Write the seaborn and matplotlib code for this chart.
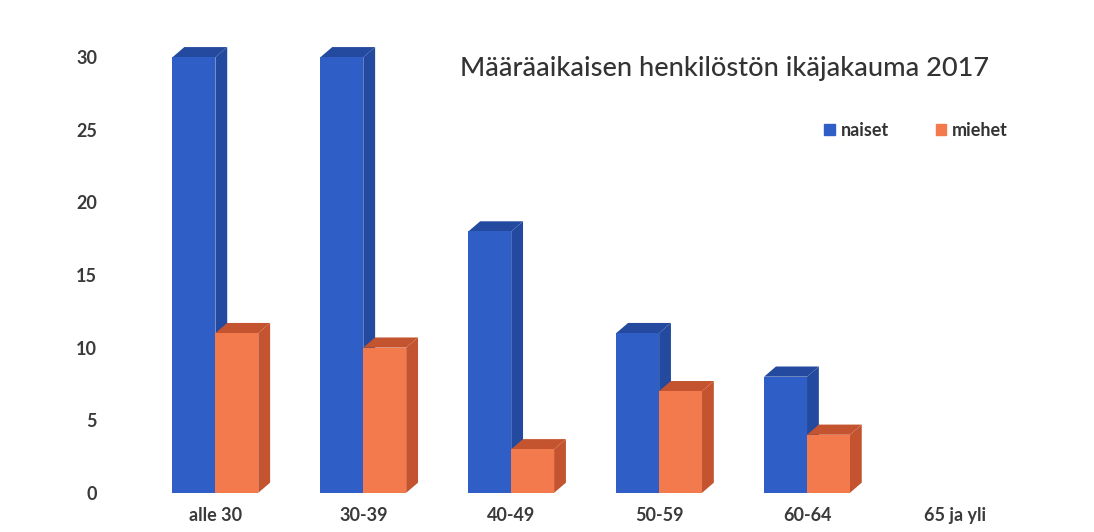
import pandas as pd
import matplotlib.pyplot as plt
from matplotlib.patches import Polygon
import seaborn as sns

# data
ikaryhmat = ["alle 30", "30-39", "40-49", "50-59", "60-64", "65 ja yli"]
naiset = [30, 30, 18, 11, 8, 0]
miehet = [11, 10, 3, 7, 4, 0]
sarjat = ["naiset", "miehet"]

front = {"naiset": "#2f5fc6", "miehet": "#f27a4c"}
side = {"naiset": "#234a9e", "miehet": "#c4542f"}

df = pd.DataFrame({
    "ikä": ikaryhmat * 2,
    "sarja": ["naiset"] * len(ikaryhmat) + ["miehet"] * len(ikaryhmat),
    "lkm": naiset + miehet,
})

sns.set_style("white")
plt.rcParams["font.family"] = ["Lato", "DejaVu Sans"]

fig = plt.figure(figsize=(10.94, 5.32), dpi=100)
ax = fig.add_axes([0.109, 0.06, 0.845, 0.887])

sns.barplot(data=df, x="ikä", y="lkm", hue="sarja", hue_order=sarjat,
            palette=front, width=0.58, gap=0, saturation=1, ax=ax,
            linewidth=0, legend=False)

# fake 3D depth on each bar, derived from the bar geometry
dx, dy = 0.08, 0.7
for i, p in enumerate(ax.patches[:len(ikaryhmat) * 2]):
    h = p.get_height()
    if h <= 0:
        continue
    s = sarjat[i // len(ikaryhmat)]
    x0 = p.get_x()
    x1 = x0 + p.get_width()
    ax.add_patch(Polygon([(x1, 0), (x1 + dx, dy), (x1 + dx, h + dy), (x1, h)],
                         closed=True, color=side[s], lw=0, zorder=p.get_zorder() - 0.1))
    ax.add_patch(Polygon([(x0, h), (x1, h), (x1 + dx, h + dy), (x0 + dx, h + dy)],
                         closed=True, color=side[s], lw=0, zorder=p.get_zorder() - 0.1))

ax.set_xlim(-0.65, 5.6)
ax.set_ylim(-0.5, 32)
ax.set_yticks(range(0, 31, 5))
ax.set_xlabel("")
ax.set_ylabel("")
for s in ax.spines.values():
    s.set_visible(False)
ax.tick_params(axis="both", length=0, labelsize=13, labelcolor="#3a3a3a")
ax.tick_params(axis="y", pad=16)
ax.tick_params(axis="x", pad=5)
for t in ax.get_xticklabels() + ax.get_yticklabels():
    t.set_fontweight("bold")

ax.text(0.369, 0.915, "Määräaikaisen henkilöstön ikäjakauma 2017",
        transform=ax.transAxes, fontsize=19.5, color="#333333",
        fontweight="medium", va="center", ha="left")

handles = [plt.Rectangle((0, 0), 1, 1, color=front[s]) for s in sarjat]
ax.legend(handles, sarjat, ncol=2, frameon=False, loc="center left",
          bbox_to_anchor=(0.745, 0.784), handlelength=0.6, handleheight=0.6,
          handletextpad=0.3, columnspacing=2.6,
          prop={"size": 13, "weight": "bold"}, labelcolor="#333333")

fig.savefig("out.png", dpi=100)
